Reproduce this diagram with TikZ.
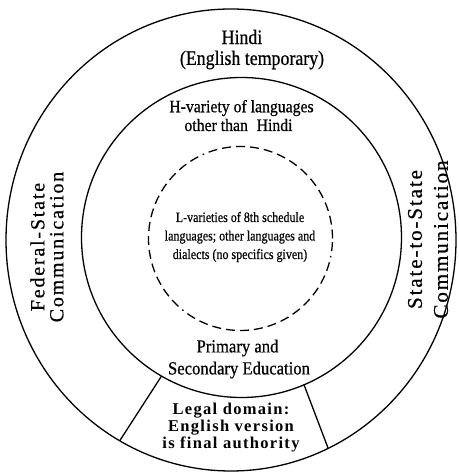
\documentclass[tikz,border=0pt]{standalone}
\usepackage{fontspec}
\setmainfont{Liberation Serif}
\usetikzlibrary{shapes.geometric}
\newfontfamily\fHindi[FakeStretch=0.87,FakeBold=0.6]{Liberation Serif}
\newfontfamily\fHvar[FakeStretch=0.9,FakeBold=0.6]{Liberation Serif}
\newfontfamily\fPrim[FakeStretch=0.9,FakeBold=0.6]{Liberation Serif}
\newfontfamily\fLvar[FakeStretch=0.84,FakeBold=0.5]{Liberation Serif}
\newfontfamily\fSideL[LetterSpace=9,FakeBold=0.6]{Liberation Serif}
\newfontfamily\fSideR[LetterSpace=9,FakeBold=0.6]{Liberation Serif}
\newfontfamily\fLegal[LetterSpace=8]{Liberation Serif}
\begin{document}
\begin{tikzpicture}[x=1pt,y=1pt,line width=1.3pt,
  txt/.style={inner sep=0pt,align=center},
  ring/.style={draw,inner sep=0pt,outer sep=0pt}]
\useasboundingbox (0,0) rectangle (458,474);
\clip (0,0) rectangle (458,474);
\node[ring,ellipse,minimum width=450pt,minimum height=462pt] (outer) at (231,234) {};
\node[ring,circle,minimum size=320pt] (inner) at (241.5,236.5) {};
\node[ring,circle,minimum size=184pt,
  dash pattern=on 9pt off 5pt on 9pt off 5pt on 9pt off 5pt on 9pt off 5pt on 9pt off 5pt on 9pt off 5pt on 9pt off 5pt on 9pt off 5pt on 9pt off 5pt on 9pt off 5pt on 9pt off 5pt on 9pt off 5pt on 9pt off 5pt on 1.5pt off 5pt] (core) at (240.5,235.5) {};
\draw (inner.240.2) -- (outer.241.2);
\draw (inner.293.5) -- (outer.295.7);
\node[txt,font=\fHindi\fontsize{20.5}{24}\selectfont] (hindi) at (242,437) {Hindi};
\node[txt,font=\fHindi\fontsize{20.5}{24}\selectfont] (engtemp) at (252,414) {(English temporary)};
\node[txt,font=\fHvar\fontsize{17.5}{17}\selectfont] (hvar) at (241.5,366) {H-variety of languages};
\node[txt,font=\fHvar\fontsize{17.5}{17}\selectfont] (other) at (238.5,349) {other than\hspace{0.5em}Hindi};
\node[txt,font=\fLvar\fontsize{14.3}{18.5}\selectfont] (lvar) at (240,237) {L-varieties of 8th schedule\\languages; other languages and\\dialects (no specifics given)};
\node[txt,font=\fPrim\fontsize{18.5}{22}\selectfont] (prim) at (237.5,126) {Primary and};
\node[txt,font=\fPrim\fontsize{18.5}{22}\selectfont] (sec) at (239,104) {Secondary Education};
\node[txt,font=\fLegal\bfseries\fontsize{16.5}{17}\selectfont] (legal) at (231,46) {Legal domain:\\English version\\is final authority};
\node[txt,rotate=90,font=\fSideL\fontsize{20}{19}\selectfont] (fed) at (47,227) {Federal-State\\Communication};
\node[txt,rotate=90,font=\fSideR\fontsize{21}{26}\selectfont] (sts) at (428,234.5) {State-to-State\\Communication};
\end{tikzpicture}
\end{document}
